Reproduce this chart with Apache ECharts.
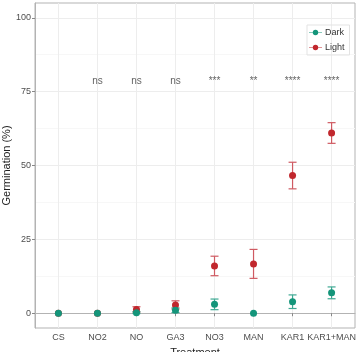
<!DOCTYPE html>
<html>
<head>
<meta charset="utf-8">
<script src="https://cdn.jsdelivr.net/npm/echarts@6/dist/echarts.min.js"></script>
<style>
  html, body { margin: 0; padding: 0; background: #fff; }
  #chart { width: 358px; height: 352px; }
</style>
</head>
<body>
<div id="chart"></div>
<script>
// germination by treatment, dark vs light, mean with error bars
var categories = ['CS', 'NO2', 'NO', 'GA3', 'NO3', 'MAN', 'KAR1', 'KAR1+MAN'];
var darkMean = [0, 0, 0.2, 1.0, 3.0, 0, 3.9, 6.9];
var darkErr = [0, 0, 0.3, 0.8, 1.8, 0, 2.3, 2.0];
var lightMean = [0, 0, 1.3, 2.8, 16.0, 16.7, 46.6, 61.0];
var lightErr = [0, 0, 0.9, 1.4, 3.3, 4.9, 4.5, 3.5];
var signif = ['', 'ns', 'ns', 'ns', '***', '**', '****', '****'];
var signifY = 78.5;
var yTicks = [0, 25, 50, 75, 100];
var yMinor = [12.5, 37.5, 62.5, 87.5];

var darkColor = '#14957a';
var lightColor = '#c1272d';
var xPos = categories.map(function (c, i) { return i + 1; });

function pts(mean) {
    return mean.map(function (m, i) { return [i + 1, m]; });
}
function bars(mean, err) {
    var out = [];
    mean.forEach(function (m, i) {
        if (err[i] > 0) out.push([i + 1, m - err[i], m + err[i]]);
    });
    return out;
}
function errorRender(color) {
    return function (params, api) {
        var x = api.value(0);
        var lo = api.coord([x, api.value(1)]);
        var hi = api.coord([x, api.value(2)]);
        var hw = 4;
        var st = { stroke: color, lineWidth: 1.2 };
        return {
            type: 'group',
            children: [
                { type: 'line', shape: { x1: lo[0], y1: lo[1], x2: hi[0], y2: hi[1] }, style: st },
                { type: 'line', shape: { x1: hi[0] - hw, y1: hi[1], x2: hi[0] + hw, y2: hi[1] }, style: st },
                { type: 'line', shape: { x1: lo[0] - hw, y1: lo[1], x2: lo[0] + hw, y2: lo[1] }, style: st }
            ]
        };
    };
}

var gridLines = [];
yTicks.forEach(function (v) { gridLines.push({ yAxis: v, lineStyle: { color: '#ededed' } }); });
yMinor.forEach(function (v) { gridLines.push({ yAxis: v, lineStyle: { color: '#f7f7f7' } }); });
xPos.forEach(function (v) { gridLines.push({ xAxis: v, lineStyle: { color: '#ededed' } }); });

var keyIcon = 'path://M0,4.4L24,4.4L24,5.6L0,5.6Z M7,5A5,5 0 1,1 17,5A5,5 0 1,1 7,5Z';
var fontFam = '"Liberation Sans", Arial, sans-serif';

var option = {
    animation: false,
    textStyle: { fontFamily: fontFam },
    grid: {
        left: 35, right: 3, top: 3, bottom: 24,
        outerBoundsMode: 'none', containLabel: false,
        show: true, borderColor: '#b3b3b3', borderWidth: 1
    },
    legend: {
        data: [
            { name: 'Dark', icon: keyIcon, itemStyle: { color: darkColor } },
            { name: 'Light', icon: keyIcon, itemStyle: { color: lightColor } }
        ],
        orient: 'vertical',
        left: 307, top: 25,
        itemWidth: 13, itemHeight: 6,
        itemGap: 6,
        padding: [3, 5, 3, 2],
        borderColor: '#e3e3e3', borderWidth: 1,
        textStyle: { fontSize: 9, color: '#333', padding: [0, 0, 0, -2] }
    },
    xAxis: {
        type: 'value', min: 0.4, max: 8.6,
        name: 'Treatment', nameLocation: 'middle', nameGap: 19, nameMoveOverlap: false,
        nameTextStyle: { fontSize: 11, color: '#222' },
        axisLine: { show: true, lineStyle: { color: '#b3b3b3' } },
        axisTick: { show: true, length: 3, customValues: xPos, lineStyle: { color: '#888' } },
        axisLabel: {
            customValues: xPos, fontSize: 9, color: '#4d4d4d', margin: 5,
            formatter: function (v) { return categories[Math.round(v) - 1]; }
        },
        splitLine: { show: false }
    },
    yAxis: {
        type: 'value', min: -5, max: 105,
        name: 'Germination (%)', nameLocation: 'middle', nameGap: 23, nameMoveOverlap: false,
        nameTextStyle: { fontSize: 11, color: '#222' },
        axisLine: { show: true, lineStyle: { color: '#b3b3b3' } },
        axisTick: { show: true, length: 3, customValues: yTicks, lineStyle: { color: '#888' } },
        axisLabel: { customValues: yTicks, fontSize: 9, color: '#4d4d4d', margin: 4 },
        splitLine: { show: false }
    },
    series: [
        {
            name: 'grid', type: 'scatter', data: [], silent: true, z: 0,
            markLine: {
                silent: true, symbol: 'none', label: { show: false }, z: 0,
                lineStyle: { type: 'solid', width: 1 },
                data: gridLines
            }
        },
        {
            name: 'Light', type: 'custom', renderItem: errorRender('#cf5a62'),
            itemStyle: { color: lightColor },
            data: bars(lightMean, lightErr), z: 2
        },
        {
            name: 'Dark', type: 'custom', renderItem: errorRender('#3fa893'),
            itemStyle: { color: darkColor },
            data: bars(darkMean, darkErr), z: 2
        },
        {
            name: 'Light', type: 'scatter', symbol: 'circle', symbolSize: 7,
            itemStyle: { color: lightColor, opacity: 1 }, data: pts(lightMean), z: 3
        },
        {
            name: 'Dark', type: 'scatter', symbol: 'circle', symbolSize: 7,
            itemStyle: { color: darkColor, opacity: 1 }, data: pts(darkMean), z: 4
        },
        {
            name: 'signif', type: 'scatter', symbolSize: 0, silent: true,
            data: signif.map(function (s, i) { return [i + 1, signifY, s]; }),
            label: {
                show: true, position: 'inside', fontSize: 10, color: '#3a3a3a',
                formatter: function (p) { return p.value[2]; }
            }
        }
    ]
};

var myChart = echarts.init(document.getElementById('chart'));
myChart.setOption(option);
</script>
</body>
</html>
